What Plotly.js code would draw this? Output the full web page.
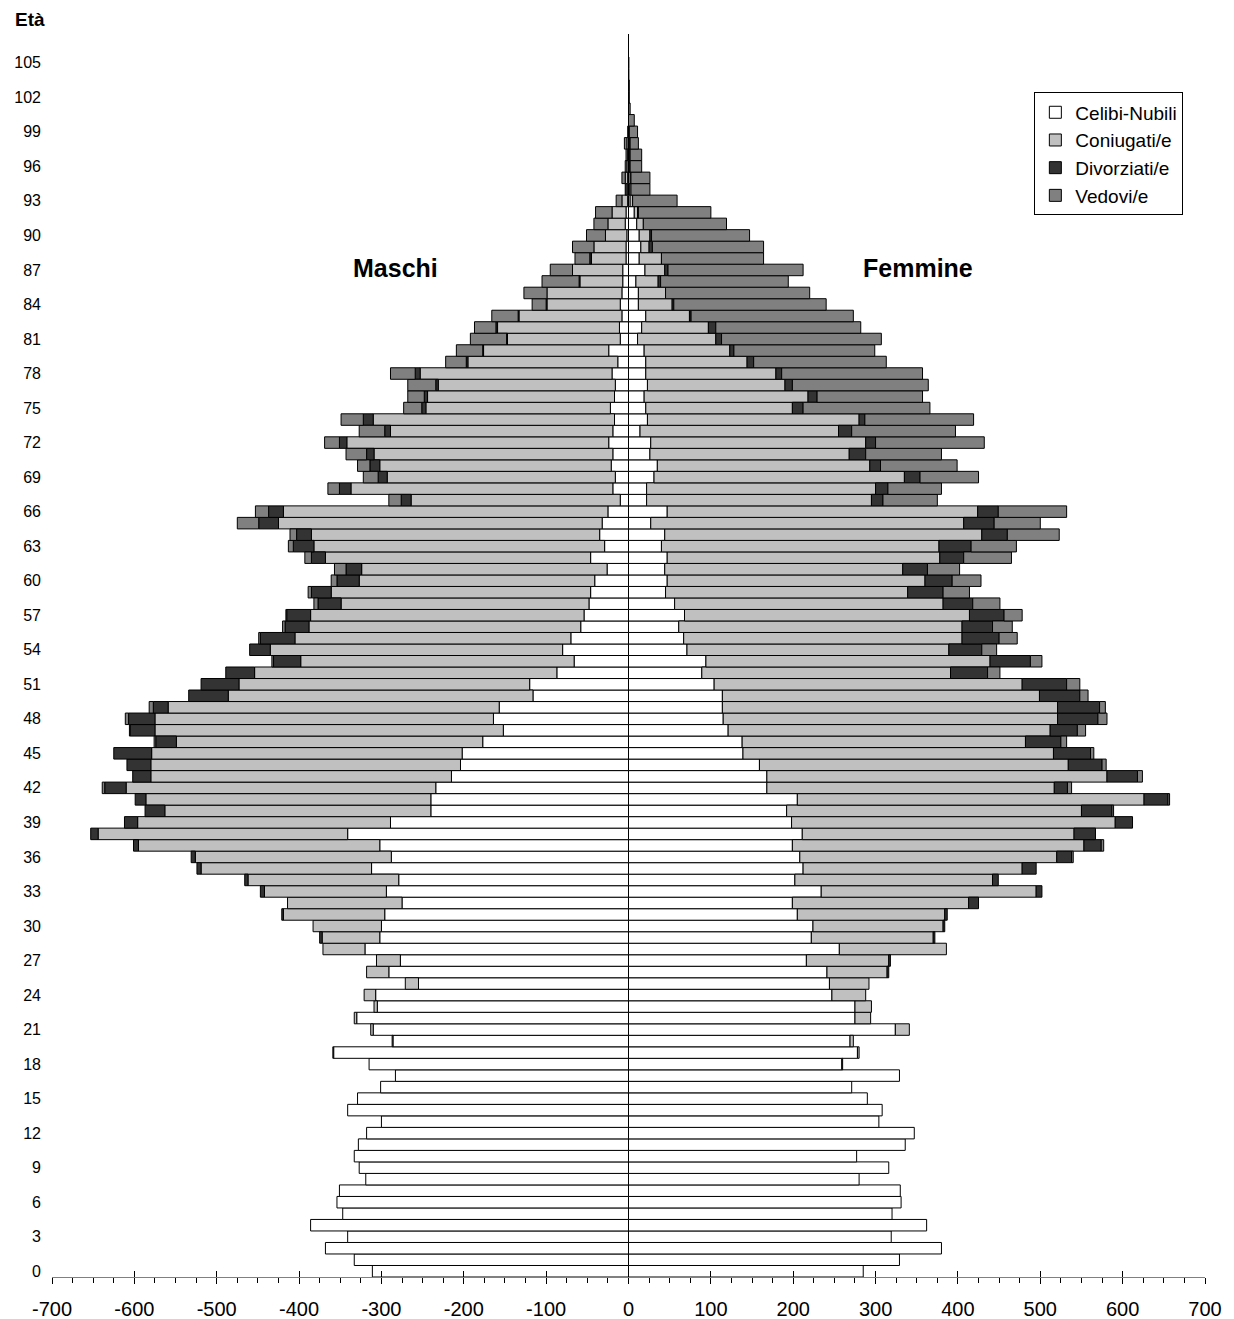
<!DOCTYPE html>
<html>
<head>
<meta charset="utf-8">
<script src="https://cdn.plot.ly/plotly-3.0.1.min.js"></script>
<style>html,body{margin:0;padding:0;background:#fff;}#chart{width:1234px;height:1319px;}</style>
</head>
<body>
<div id="chart"></div>
<script>
// Ages 0..105
const ages = [0,1,2,3,4,5,6,7,8,9,10,11,12,13,14,15,16,17,18,19,20,21,22,23,24,25,26,27,28,29,30,31,32,33,34,35,36,37,38,39,40,41,42,43,44,45,46,47,48,49,50,51,52,53,54,55,56,57,58,59,60,61,62,63,64,65,66,67,68,69,70,71,72,73,74,75,76,77,78,79,80,81,82,83,84,85,86,87,88,89,90,91,92,93,94,95,96,97,98,99,100,101,102,103,104,105];
const ageTicks = [0,3,6,9,12,15,18,21,24,27,30,33,36,39,42,45,48,51,54,57,60,63,66,69,72,75,78,81,84,87,90,93,96,99,102,105];
const xTicks = [-700,-600,-500,-400,-300,-200,-100,0,100,200,300,400,500,600,700];
const xTickText = ["-700","-600","-500","-400","-300","-200","-100","0","100","200","300","400","500","600","700"];
const seriesNames = ["Celibi-Nubili","Coniugati/e","Divorziati/e","Vedovi/e"];

// Maschi (counts, drawn to the left)
const maleSingle = [311,333,368,341,386,347,354,351,319,327,
 333,328,318,300,341,329,301,283,315,358,
 286,310,330,305,307,255,291,277,320,302,
 300,296,275,294,279,312,288,302,341,289,
 240,240,234,215,204,202,177,152,164,157,
 116,120,87,66,80,70,58,54,48,46,
 41,26,46,29,35,32,25,10,19,16,
 21,19,24,19,17,22,17,16,20,13,
 24,10,11,8,10,8,7,7,3,3,
 2,4,3,1,1,1,0,0,0,0,
 0,0,0,0,0,0];
const maleMarried = [0,0,0,0,0,0,0,0,0,0,
 0,0,0,0,0,0,0,0,0,1,
 1,3,3,4,14,16,27,29,51,70,
 83,123,139,148,183,207,238,293,303,307,
 323,346,376,365,376,377,372,423,411,402,
 370,353,367,332,355,335,330,332,301,315,
 286,298,322,353,350,393,394,254,318,277,
 281,290,318,270,293,224,227,215,233,182,
 152,137,148,125,89,91,52,61,42,39,
 26,21,17,7,2,3,2,1,2,1,
 0,0,0,0,0,0];
const maleDivorced = [0,0,0,0,0,0,0,0,0,0,
 0,0,0,0,0,0,0,0,0,0,
 0,0,0,0,0,0,0,0,0,3,
 0,2,0,5,4,5,5,6,9,16,
 24,13,26,22,29,46,25,30,32,18,
 48,46,35,33,25,42,29,29,28,24,
 27,19,17,25,18,24,18,12,14,11,
 12,9,9,7,12,5,4,3,6,2,
 1,1,2,1,1,0,1,0,2,0,
 0,0,0,0,0,0,0,0,0,0,
 0,0,0,0,0,0];
const maleWidowed = [0,0,0,0,0,0,0,0,0,0,
 0,0,0,0,0,0,0,0,0,0,
 0,0,0,0,0,0,0,0,0,0,
 0,0,0,0,0,0,0,0,0,0,
 0,0,3,0,0,0,2,1,4,5,
 0,0,0,2,0,2,3,1,5,4,
 7,14,8,6,8,26,16,15,14,18,
 15,25,18,31,27,22,20,34,30,25,
 32,44,26,32,17,28,45,27,18,26,
 23,17,20,7,1,4,2,2,3,0,
 0,0,0,0,0,0];

// Femmine
const femaleSingle = [285,329,380,319,362,320,331,330,280,316,
 277,336,347,304,308,290,271,329,259,278,
 269,324,275,275,247,244,241,216,256,222,
 224,205,199,234,202,212,208,199,211,198,
 192,205,168,168,159,139,138,121,115,114,
 114,104,89,94,71,67,61,68,56,45,
 47,44,47,40,44,27,47,22,22,31,
 35,26,27,14,23,21,19,23,21,21,
 19,11,16,21,12,12,9,20,13,15,
 13,10,7,2,1,2,1,1,1,1,
 0,0,0,0,0,0];
const femaleMarried = [0,0,0,0,0,0,0,0,0,0,
 0,0,0,0,0,0,0,0,1,2,
 4,17,19,20,41,48,73,100,130,148,
 158,179,214,261,240,266,312,354,330,393,
 358,421,349,413,375,377,344,391,406,407,
 385,374,302,345,318,338,344,346,326,294,
 313,289,331,337,385,380,377,273,278,304,
 258,242,261,241,257,178,199,167,158,123,
 104,95,81,53,41,33,27,24,27,10,
 13,8,4,3,2,1,1,1,1,0,
 0,0,0,0,0,0];
const femaleDivorced = [0,0,0,0,0,0,0,0,0,0,
 0,0,0,0,0,0,0,0,0,0,
 0,0,0,0,0,0,2,2,0,2,
 2,3,12,7,7,17,18,21,26,21,
 37,29,16,37,41,45,43,33,49,51,
 49,54,45,49,40,45,37,42,36,43,
 33,30,29,39,31,37,25,14,15,19,
 13,20,12,16,7,13,11,9,7,8,
 5,7,9,2,2,0,3,4,0,4,
 2,0,1,0,0,0,0,0,0,0,
 0,0,0,0,0,0];
const femaleWidowed = [0,0,0,0,0,0,0,0,0,0,
 0,0,0,0,0,0,0,0,0,0,
 0,0,0,0,0,0,0,0,0,0,
 0,0,0,0,0,0,2,3,0,0,
 2,2,5,6,5,4,7,10,11,7,
 10,16,15,14,18,22,24,22,33,32,
 35,39,58,55,63,56,83,66,65,71,
 93,92,132,126,132,154,128,165,171,161,
 171,194,176,197,185,175,155,164,124,135,
 119,101,88,54,23,23,14,14,10,10,
 7,2,1,1,0.5,0.5];

const fills = ["#ffffff","#c0c0c0","#333333","#808080"];
const FONT = "Liberation Sans, Arial, sans-serif";

const maleSets = [maleSingle, maleMarried, maleDivorced, maleWidowed];
const femaleSets = [femaleSingle, femaleMarried, femaleDivorced, femaleWidowed];

const traces = [];
maleSets.forEach((arr, i) => {
  traces.push({
    type: "bar", orientation: "h", y: ages,
    x: arr.map(v => v === 0 ? null : -v),
    name: seriesNames[i], legendgroup: seriesNames[i], showlegend: false,
    width: 1,
    marker: {color: fills[i], line: {color: "#000", width: 1}},
    hovertemplate: "Età %{y}: %{customdata}<extra>" + seriesNames[i] + " (M)</extra>",
    customdata: arr
  });
});
femaleSets.forEach((arr, i) => {
  traces.push({
    type: "bar", orientation: "h", y: ages,
    x: arr.map(v => v === 0 ? null : v),
    name: seriesNames[i], legendgroup: seriesNames[i], showlegend: true,
    width: 1,
    marker: {color: fills[i], line: {color: "#000", width: 1}},
    hovertemplate: "Età %{y}: %{x}<extra>" + seriesNames[i] + " (F)</extra>"
  });
});
// empty helper trace so the overlay axis (inner half of the crossing ticks) is drawn
traces.push({type: "scatter", x: [], y: [], xaxis: "x2", yaxis: "y", showlegend: false, hoverinfo: "skip"});

const layout = {
  width: 1234, height: 1319,
  margin: {l: 52, r: 29, t: 34, b: 42},
  paper_bgcolor: "#fff", plot_bgcolor: "#fff",
  font: {family: FONT, color: "#000"},
  barmode: "relative", bargap: 0,
  showlegend: true,
  legend: {
    x: 0.852, y: 0.953, xanchor: "left", yanchor: "top",
    bgcolor: "#fff", bordercolor: "#000", borderwidth: 1,
    font: {family: FONT, size: 19, color: "#000"},
    traceorder: "normal", itemwidth: 30, tracegroupgap: 0
  },
  xaxis: {
    range: [-700, 700], tickvals: xTicks, ticktext: xTickText,
    tickfont: {family: FONT, size: 20, color: "#000"},
    ticks: "outside", ticklen: 6, tickcolor: "#000", tickwidth: 1,
    minor: {dtick: 25, tick0: 0, ticks: "outside", ticklen: 5, tickcolor: "#000", tickwidth: 1, showgrid: false},
    showline: true, linecolor: "#808080", linewidth: 1,
    showgrid: false, zeroline: true, zerolinecolor: "#000", zerolinewidth: 1,
    ticklabelstandoff: 8, fixedrange: true
  },
  xaxis2: {
    overlaying: "x", anchor: "y", side: "bottom",
    range: [-700, 700], tickvals: xTicks, showticklabels: false,
    ticks: "inside", ticklen: 6, tickcolor: "#000", tickwidth: 1,
    showline: false, showgrid: false, zeroline: false, fixedrange: true
  },
  yaxis: {
    range: [-0.5, 107.5], tickvals: ageTicks, ticktext: ageTicks.map(String),
    tickfont: {family: FONT, size: 16, color: "#000"},
    ticks: "", showline: false, showgrid: false, zeroline: false,
    ticklabelstandoff: 10, fixedrange: true
  },
  annotations: [
    {text: "<b>Maschi</b>", x: -283, y: 87.2, xref: "x", yref: "y", showarrow: false,
     font: {family: FONT, size: 25, color: "#000"}, xanchor: "center", yanchor: "middle"},
    {text: "<b>Femmine</b>", x: 352, y: 87.2, xref: "x", yref: "y", showarrow: false,
     font: {family: FONT, size: 25, color: "#000"}, xanchor: "center", yanchor: "middle"},
    {text: "<b>Età</b>", x: -0.0191, y: 1.0113, xref: "paper", yref: "paper", showarrow: false,
     font: {family: FONT, size: 19, color: "#000"}, xanchor: "center", yanchor: "middle"}
  ]
};

Plotly.newPlot("chart", traces, layout, {displayModeBar: false, staticPlot: true});
</script>
</body>
</html>
